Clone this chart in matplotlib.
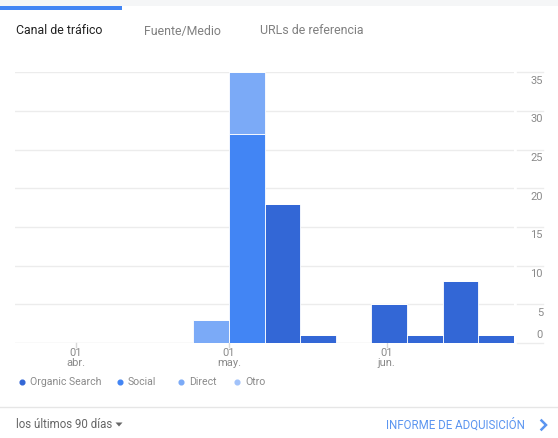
import datetime as dt
import matplotlib
matplotlib.use("Agg")
import matplotlib.pyplot as plt
import matplotlib.dates as mdates
from matplotlib.lines import Line2D
from matplotlib.patches import Rectangle
import numpy as np

plt.rcParams['font.family'] = ['Roboto', 'DejaVu Sans']

# Weekly sessions by channel (weeks starting on Sunday)
week_starts = ["2016-03-20", "2016-03-27", "2016-04-03", "2016-04-10", "2016-04-17",
               "2016-04-24", "2016-05-01", "2016-05-08", "2016-05-15", "2016-05-22",
               "2016-05-29", "2016-06-05", "2016-06-12", "2016-06-19"]
organic_search = [0, 0, 0, 0, 0, 0, 0, 18, 1, 0, 5, 1, 8, 1]
social =         [0, 0, 0, 0, 0, 0, 27, 0, 0, 0, 0, 0, 0, 0]
direct =         [0, 0, 0, 0, 0, 3, 8, 0, 0, 0, 0, 0, 0, 0]
otro =           [0, 0, 0, 0, 0, 0, 0, 0, 0, 0, 0, 0, 0, 0]

channel_names = ["Organic Search", "Social", "Direct", "Otro"]
channel_colors = ["#3367d6", "#4285f4", "#7baaf7", "#a1c2fa"]

y_ticks = [0, 5, 10, 15, 20, 25, 30, 35]
x_tick_dates = ["2016-04-01", "2016-05-01", "2016-06-01"]
x_tick_labels = ["01\nabr.", "01\nmay.", "01\njun."]
tabs = ["Canal de tráfico", "Fuente/Medio", "URLs de referencia"]

W, H = 558, 438
fig = plt.figure(figsize=(W / 100, H / 100), dpi=100)
fig.patch.set_facecolor("white")


def fx(px):
    return px / W


def fy(py):
    return 1 - py / H


# top strip with the active-tab underline
fig.add_artist(Rectangle((0, fy(6)), 1, 6 / H, transform=fig.transFigure,
                         facecolor="#f5f6f7", edgecolor="none"))
fig.add_artist(Rectangle((0, fy(9.5)), fx(122), 3.5 / H, transform=fig.transFigure,
                         facecolor="#4285f4", edgecolor="none"))

tab_x = [16, 144, 260]
tab_colors = ["#222222", "#808080", "#808080"]
for t, x, c in zip(tabs, tab_x, tab_colors):
    fig.text(fx(x), fy(31), t, fontsize=8.9, color=c, va="center", ha="left")

# chart area
left, right, top, bottom = 15, 514, 72.3, 343
ax = fig.add_axes([fx(left), fy(bottom), fx(right - left), (bottom - top) / H])
ax.set_facecolor("white")

dates = [dt.datetime.strptime(d, "%Y-%m-%d") for d in week_starts]
xnum = mdates.date2num(dates)
series = [organic_search, social, direct, otro]
base = np.zeros(len(xnum))
for vals, col in zip(series, channel_colors):
    v = np.array(vals, dtype=float)
    ax.bar(xnum, v, width=7, bottom=base, align="edge", color=col,
           edgecolor="white", linewidth=0.6, zorder=3)
    base += v

ax.set_xlim(xnum[0], xnum[-1] + 7)
ax.set_ylim(0, 35)
for s in ax.spines.values():
    s.set_visible(False)
ax.set_yticks([])
ax.set_xticks([])

grid_col = "#ececec"
for yv in y_ticks:
    ax.axhline(yv, color=grid_col if yv else "#e2e2e2", lw=1.0, zorder=1)
    # short continuation of the grid line under the value label
    ax.add_line(Line2D([1 + 3 / (right - left), 1 + 29 / (right - left)], [yv, yv],
                       transform=ax.get_yaxis_transform(), color=grid_col, lw=1.0,
                       clip_on=False))
    if yv == 0:
        ax.annotate(str(yv), xy=(1 + 29 / (right - left), yv),
                    xycoords=ax.get_yaxis_transform(), xytext=(0, 2.5),
                    textcoords="offset points", ha="right", va="bottom",
                    fontsize=8, color="#8a8a8a")
    else:
        ax.annotate(str(yv), xy=(1 + 29 / (right - left), yv),
                    xycoords=ax.get_yaxis_transform(), xytext=(0, -2.5),
                    textcoords="offset points", ha="right", va="top",
                    fontsize=8, color="#8a8a8a")

for d, lab in zip(x_tick_dates, x_tick_labels):
    xv = mdates.date2num(dt.datetime.strptime(d, "%Y-%m-%d"))
    ax.add_line(Line2D([xv, xv], [0, -0.5], color="#d8d8d8", lw=1.0, clip_on=False))
    ax.annotate(lab, xy=(xv, 0), xycoords="data", xytext=(0, -3.5),
                textcoords="offset points", ha="center", va="top",
                fontsize=8, color="#8a8a8a", linespacing=1.05)

# legend row
leg_dot_x = [22, 120, 181, 237]
for name, col, x in zip(channel_names, channel_colors, leg_dot_x):
    fig.add_artist(Line2D([fx(x)], [fy(382)], marker="o", markersize=3.4,
                          color=col, transform=fig.transFigure, linestyle="none"))
    fig.text(fx(x + 8), fy(382), name, fontsize=7.6, color="#8a8a8a",
             va="center", ha="left")

# footer
fig.add_artist(Line2D([0, 1], [fy(407), fy(407)], color="#e6e6e6", lw=1.0,
                      transform=fig.transFigure))
fig.text(fx(16), fy(425), "los últimos 90 días", fontsize=8.3, color="#666666",
         va="center", ha="left")
fig.add_artist(plt.Polygon([[fx(115.5), fy(422.5)], [fx(122.5), fy(422.5)],
                            [fx(119), fy(426.5)]], closed=True,
                           transform=fig.transFigure, facecolor="#666666",
                           edgecolor="none"))
fig.text(fx(525), fy(425), "INFORME DE ADQUISICIÓN", fontsize=8.3, color="#5b95f0",
         va="center", ha="right")
fig.add_artist(Line2D([fx(541.5), fx(546), fx(541.5)], [fy(420.5), fy(425), fy(429.5)],
                      color="#5b95f0", lw=1.8, transform=fig.transFigure,
                      solid_joinstyle="miter"))

fig.savefig("out.png", dpi=100, facecolor="white")
